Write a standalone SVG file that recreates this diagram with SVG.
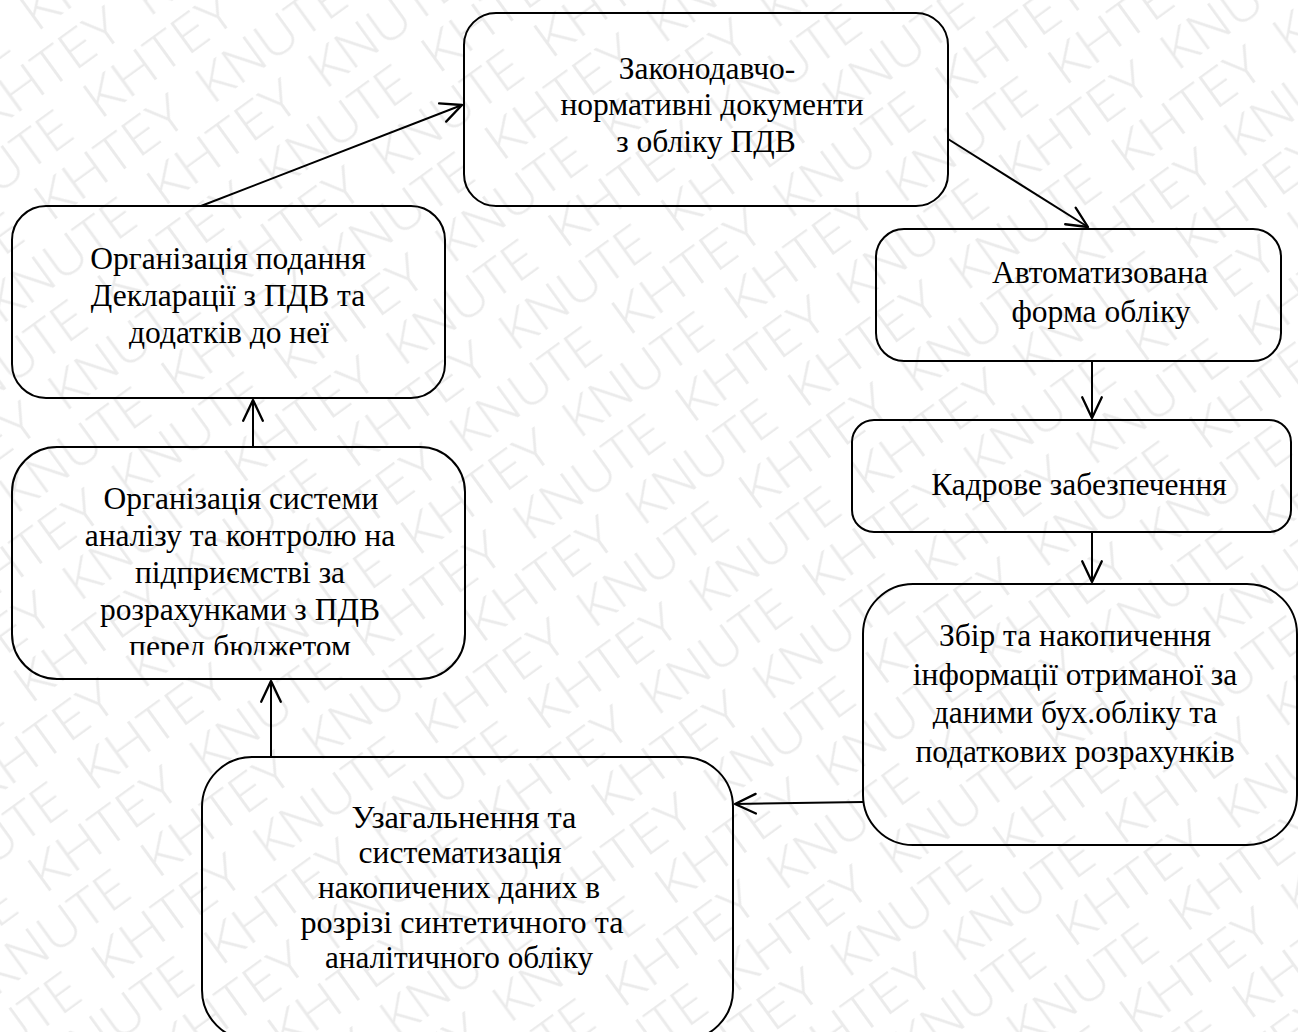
<svg xmlns="http://www.w3.org/2000/svg" width="1298" height="1032" viewBox="0 0 1298 1032">
<style>
.box{fill:none;stroke:#000;stroke-width:2}
.t{font-family:"Liberation Serif","Times New Roman",serif;font-size:31.5px;fill:#000;text-anchor:middle}
.c{stroke:#000;stroke-width:2;fill:none;marker-end:url(#ah)}
.wm{font-family:"Open Sans","Liberation Sans",sans-serif;font-weight:300;font-size:52px;fill:#ebebeb}
</style>
<defs>
<marker id="ah" markerUnits="userSpaceOnUse" markerWidth="30" markerHeight="30" viewBox="-22 -12 26 24" refX="0" refY="0" orient="auto">
<path d="M-18,-8.5 L0,0 L-18,8.5" fill="none" stroke="#000" stroke-width="2" stroke-linecap="round" stroke-linejoin="round"/>
</marker>
<pattern id="wmp" patternUnits="userSpaceOnUse" width="400" height="108" patternTransform="rotate(-36)">
<text class="wm" x="10" y="48" textLength="172" lengthAdjust="spacingAndGlyphs">KHTEY</text>
<text class="wm" x="210" y="48" textLength="172" lengthAdjust="spacingAndGlyphs">KNUTE</text>
<text class="wm" x="110" y="102" textLength="172" lengthAdjust="spacingAndGlyphs">KNUTE</text>
<text class="wm" x="310" y="102" textLength="172" lengthAdjust="spacingAndGlyphs">KHTEY</text>
<text class="wm" x="-90" y="102" textLength="172" lengthAdjust="spacingAndGlyphs">KHTEY</text>
</pattern>
<clipPath id="clipL2"><rect x="12" y="447" width="453" height="208"/></clipPath>
</defs>
<rect width="1298" height="1032" fill="#fff"/>
<rect width="1298" height="1032" fill="url(#wmp)"/>

<g id="connectors">
<line class="c" x1="201" y1="206" x2="462" y2="105"/>
<line class="c" x1="948" y1="139" x2="1088" y2="227"/>
<line class="c" x1="1092" y1="361" x2="1092" y2="418"/>
<line class="c" x1="1092" y1="532" x2="1092" y2="582"/>
<line class="c" x1="863" y1="802" x2="735" y2="804"/>
<line class="c" x1="271" y1="757" x2="271" y2="681"/>
<line class="c" x1="253" y1="447" x2="253" y2="400"/>
</g>

<g id="node-top">
<rect class="box" x="464" y="13" width="484" height="193" rx="32" ry="32"/>
<text class="t" x="707" y="79">Законодавчо-</text>
<text class="t" x="712" y="115">нормативні документи</text>
<text class="t" x="706" y="152">з обліку ПДВ</text>
</g>

<g id="node-declaration">
<rect class="box" x="12" y="206" width="433" height="192" rx="34" ry="34"/>
<text class="t" x="228" y="269">Організація подання</text>
<text class="t" x="228" y="306">Декларації з ПДВ та</text>
<text class="t" x="229" y="343">додатків до неї</text>
</g>

<g id="node-analysis">
<rect class="box" x="12" y="447" width="453" height="232" rx="45" ry="45"/>
<g clip-path="url(#clipL2)">
<text class="t" x="241" y="509">Організація системи</text>
<text class="t" x="240" y="546">аналізу та контролю на</text>
<text class="t" x="240" y="583">підприємстві за</text>
<text class="t" x="240" y="620">розрахунками з ПДВ</text>
<text class="t" x="240" y="657">перед бюджетом</text>
</g>
</g>

<g id="node-auto">
<rect class="box" x="876" y="229" width="405" height="132" rx="28" ry="28"/>
<text class="t" x="1100" y="283">Автоматизована</text>
<text class="t" x="1101" y="322">форма обліку</text>
</g>

<g id="node-staff">
<rect class="box" x="852" y="420" width="439" height="112" rx="22" ry="22"/>
<text class="t" x="1079" y="495">Кадрове забезпечення</text>
</g>

<g id="node-collect">
<rect class="box" x="863" y="584" width="434" height="261" rx="50" ry="50"/>
<text class="t" x="1075" y="646">Збір та накопичення</text>
<text class="t" x="1075" y="685">інформації отриманої за</text>
<text class="t" x="1075" y="723">даними бух.обліку та</text>
<text class="t" x="1075" y="762">податкових розрахунків</text>
</g>

<g id="node-summary">
<rect class="box" x="202" y="757" width="531" height="283" rx="50" ry="50"/>
<text class="t" x="464" y="828" textLength="225" lengthAdjust="spacingAndGlyphs">Узагальнення та</text>
<text class="t" x="460" y="863" textLength="203" lengthAdjust="spacingAndGlyphs">систематизація</text>
<text class="t" x="459" y="898" textLength="282" lengthAdjust="spacingAndGlyphs">накопичених даних в</text>
<text class="t" x="462" y="933" textLength="323" lengthAdjust="spacingAndGlyphs">розрізі синтетичного та</text>
<text class="t" x="459" y="968" textLength="268" lengthAdjust="spacingAndGlyphs">аналітичного обліку</text>
</g>
</svg>
